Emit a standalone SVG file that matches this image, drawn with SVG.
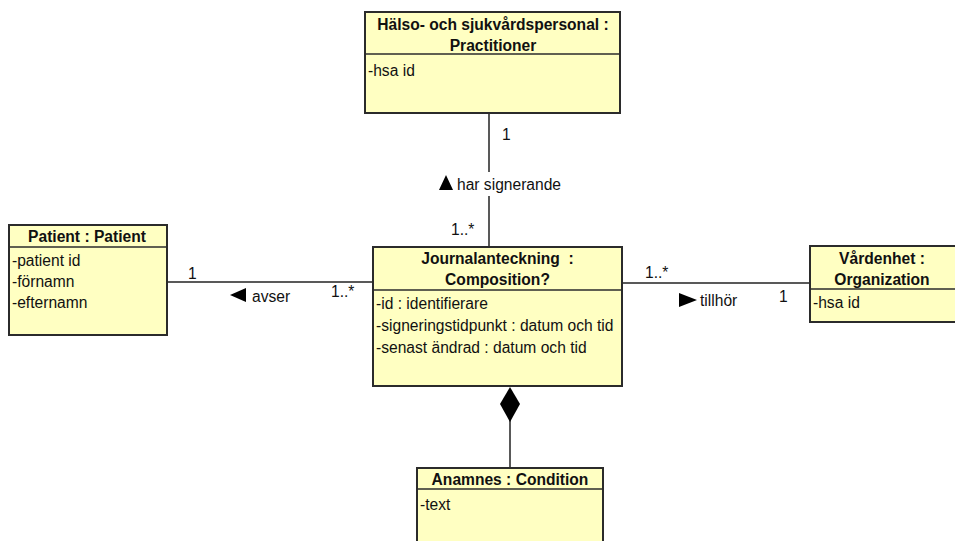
<svg xmlns="http://www.w3.org/2000/svg" width="955" height="541" viewBox="0 0 955 541">
  <style>
    .box { fill: #FFFFC2; stroke: #2b2b2b; stroke-width: 2; }
    .sep { stroke: #2b2b2b; stroke-width: 1.5; }
    .title { font-family: "Liberation Sans", Arial, sans-serif; font-size: 15.6px; font-weight: bold; fill: #111; text-anchor: middle; }
    .attr { font-family: "Liberation Sans", Arial, sans-serif; font-size: 15.6px; fill: #111; }
    .lbl { font-family: "Liberation Sans", Arial, sans-serif; font-size: 15.6px; fill: #111; }
    .conn line { stroke: #222; stroke-width: 1.5; }
  </style>
  <rect width="955" height="541" fill="#ffffff"/>

  <!-- associations -->
  <g id="connectors" class="conn">
    <!-- Practitioner – Composition -->
    <line x1="489" y1="113" x2="489" y2="247"/>
    <rect x="436" y="172" width="132" height="24" fill="#ffffff"/>
    <text class="lbl" x="502" y="140">1</text>
    <polygon points="446,175 453,190 439,190" fill="#000"/>
    <text class="lbl" x="457" y="190">har signerande</text>
    <text class="lbl" x="451" y="235">1..*</text>

    <!-- Patient – Composition -->
    <line x1="167" y1="282" x2="373" y2="282"/>
    <text class="lbl" x="188" y="279">1</text>
    <polygon points="230,295 246,288 246,302" fill="#000"/>
    <text class="lbl" x="252" y="302">avser</text>
    <text class="lbl" x="331" y="297">1..*</text>

    <!-- Composition – Organization -->
    <line x1="622" y1="283" x2="810" y2="283"/>
    <text class="lbl" x="645" y="278">1..*</text>
    <polygon points="697,300 679,293 679,307" fill="#000"/>
    <text class="lbl" x="700" y="306">tillhör</text>
    <text class="lbl" x="779" y="302">1</text>

    <!-- Composition ◆— Condition -->
    <line x1="510" y1="420" x2="510" y2="468"/>
    <polygon points="510,387 520,404 510,422 500,404" fill="#000"/>
  </g>

  <g id="practitioner">
    <rect class="box" x="365" y="12" width="255" height="101"/>
    <line class="sep" x1="365" y1="54" x2="620" y2="54"/>
    <text class="title" x="493" y="30">Hälso- och sjukvårdspersonal :</text>
    <text class="title" x="493" y="51">Practitioner</text>
    <text class="attr" x="368" y="76">-hsa id</text>
  </g>

  <g id="patient">
    <rect class="box" x="9" y="225" width="158" height="110"/>
    <line class="sep" x1="9" y1="247" x2="167" y2="247"/>
    <text class="title" x="87" y="242">Patient : Patient</text>
    <text class="attr" x="12" y="266">-patient id</text>
    <text class="attr" x="12" y="287">-förnamn</text>
    <text class="attr" x="12" y="308">-efternamn</text>
  </g>

  <g id="composition">
    <rect class="box" x="373" y="247" width="249" height="139"/>
    <line class="sep" x1="373" y1="290" x2="622" y2="290"/>
    <text class="title" x="497.500" y="264" xml:space="preserve">Journalanteckning  :</text>
    <text class="title" x="497.500" y="285">Composition?</text>
    <text class="attr" x="376" y="309">-id : identifierare</text>
    <text class="attr" x="376" y="331">-signeringstidpunkt : datum och tid</text>
    <text class="attr" x="376" y="353">-senast ändrad : datum och tid</text>
  </g>

  <g id="organization">
    <rect class="box" x="810" y="246" width="155" height="76"/>
    <line class="sep" x1="810" y1="289" x2="955" y2="289"/>
    <text class="title" x="882" y="264">Vårdenhet :</text>
    <text class="title" x="882" y="285">Organization</text>
    <text class="attr" x="813" y="308">-hsa id</text>
  </g>

  <g id="condition">
    <rect class="box" x="417" y="468" width="186" height="85"/>
    <line class="sep" x1="417" y1="489" x2="603" y2="489"/>
    <text class="title" x="510" y="485">Anamnes : Condition</text>
    <text class="attr" x="420" y="510">-text</text>
  </g>
</svg>
